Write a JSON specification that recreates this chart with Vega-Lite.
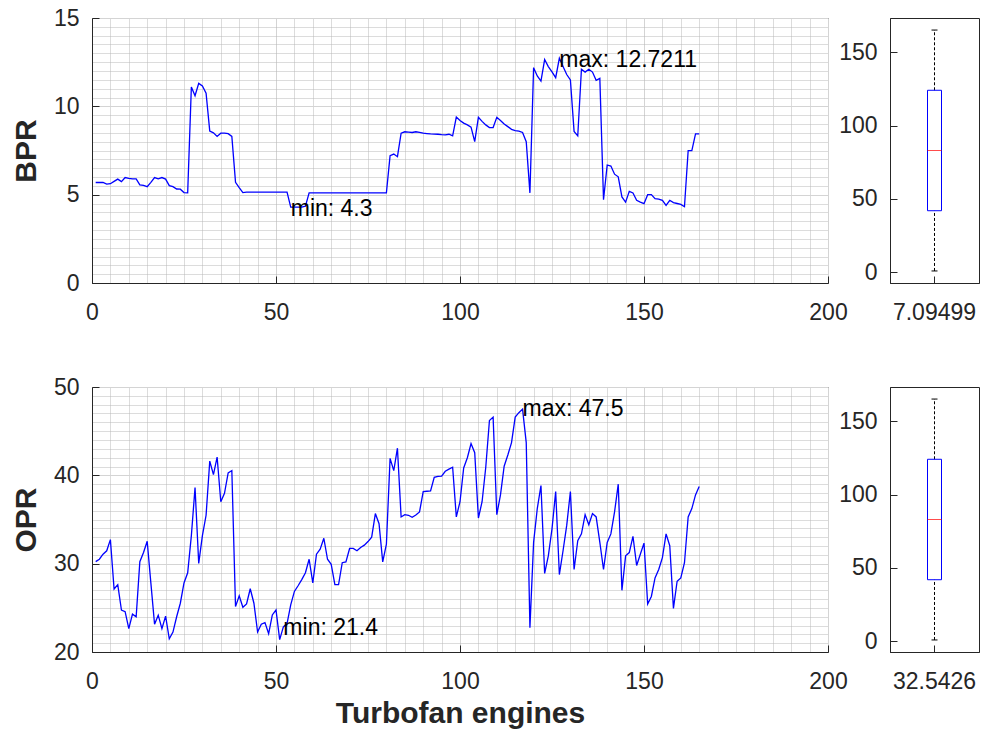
{
  "$schema": "https://vega.github.io/schema/vega-lite/v6.json",
  "padding": {"left": 10, "top": 6, "right": 0, "bottom": 0},
  "background": "white",
  "spacing": 50,
  "datasets": {
    "engines": [
      {"i":1,"BPR":5.69,"OPR":30.23},{"i":2,"BPR":5.69,"OPR":30.5},{"i":3,"BPR":5.69,"OPR":31.07},{"i":4,"BPR":5.6,"OPR":31.46},{"i":5,"BPR":5.62,"OPR":32.72},
      {"i":6,"BPR":5.75,"OPR":27.13},{"i":7,"BPR":5.88,"OPR":27.62},{"i":8,"BPR":5.74,"OPR":24.75},{"i":9,"BPR":5.97,"OPR":24.56},{"i":10,"BPR":5.92,"OPR":22.64},
      {"i":11,"BPR":5.89,"OPR":24.29},{"i":12,"BPR":5.89,"OPR":23.99},{"i":13,"BPR":5.55,"OPR":30.23},{"i":14,"BPR":5.52,"OPR":31.26},{"i":15,"BPR":5.45,"OPR":32.53},
      {"i":16,"BPR":5.7,"OPR":27.8},{"i":17,"BPR":5.97,"OPR":23.14},{"i":18,"BPR":5.9,"OPR":24.17},{"i":19,"BPR":5.97,"OPR":22.64},{"i":20,"BPR":5.88,"OPR":24.06},
      {"i":21,"BPR":5.51,"OPR":21.5},{"i":22,"BPR":5.45,"OPR":22.26},{"i":23,"BPR":5.32,"OPR":23.99},{"i":24,"BPR":5.31,"OPR":25.52},{"i":25,"BPR":5.12,"OPR":27.82},
      {"i":26,"BPR":5.1,"OPR":28.97},{"i":27,"BPR":11.09,"OPR":33.18},{"i":28,"BPR":10.6,"OPR":38.62},{"i":29,"BPR":11.3,"OPR":30.03},{"i":30,"BPR":11.15,"OPR":33.18},
      {"i":31,"BPR":10.75,"OPR":35.48},{"i":32,"BPR":8.6,"OPR":41.61},{"i":33,"BPR":8.5,"OPR":40.08},{"i":34,"BPR":8.3,"OPR":42.07},{"i":35,"BPR":8.48,"OPR":37.01},
      {"i":36,"BPR":8.48,"OPR":37.97},{"i":37,"BPR":8.45,"OPR":40.27},{"i":38,"BPR":8.3,"OPR":40.54},{"i":39,"BPR":5.7,"OPR":25.14},{"i":40,"BPR":5.4,"OPR":26.36},
      {"i":41,"BPR":5.12,"OPR":25.06},{"i":42,"BPR":5.14,"OPR":25.44},{"i":43,"BPR":5.14,"OPR":27.16},{"i":44,"BPR":5.14,"OPR":25.52},{"i":45,"BPR":5.14,"OPR":22.26},
      {"i":46,"BPR":5.14,"OPR":23.14},{"i":47,"BPR":5.14,"OPR":23.33},{"i":48,"BPR":5.14,"OPR":22.07},{"i":49,"BPR":5.14,"OPR":24.2},{"i":50,"BPR":5.14,"OPR":24.75},
      {"i":51,"BPR":5.14,"OPR":21.4},{"i":52,"BPR":5.14,"OPR":22.84},{"i":53,"BPR":5.14,"OPR":23.22},{"i":54,"BPR":4.3,"OPR":25.33},{"i":55,"BPR":4.3,"OPR":26.86},
      {"i":56,"BPR":4.3,"OPR":27.5},{"i":57,"BPR":4.3,"OPR":28.2},{"i":58,"BPR":4.35,"OPR":28.97},{"i":59,"BPR":5.1,"OPR":30.5},{"i":60,"BPR":5.1,"OPR":27.82},
      {"i":61,"BPR":5.1,"OPR":31.07},{"i":62,"BPR":5.1,"OPR":31.64},{"i":63,"BPR":5.1,"OPR":32.87},{"i":64,"BPR":5.1,"OPR":30.5},{"i":65,"BPR":5.1,"OPR":29.92},
      {"i":66,"BPR":5.1,"OPR":27.62},{"i":67,"BPR":5.1,"OPR":27.62},{"i":68,"BPR":5.1,"OPR":30.11},{"i":69,"BPR":5.1,"OPR":30.2},{"i":70,"BPR":5.1,"OPR":31.72},
      {"i":71,"BPR":5.1,"OPR":31.72},{"i":72,"BPR":5.1,"OPR":31.46},{"i":73,"BPR":5.1,"OPR":31.84},{"i":74,"BPR":5.1,"OPR":32.1},{"i":75,"BPR":5.1,"OPR":32.5},
      {"i":76,"BPR":5.1,"OPR":33.0},{"i":77,"BPR":5.1,"OPR":35.67},{"i":78,"BPR":5.1,"OPR":34.52},{"i":79,"BPR":5.1,"OPR":30.2},{"i":80,"BPR":5.1,"OPR":32.22},
      {"i":81,"BPR":7.21,"OPR":41.92},{"i":82,"BPR":7.3,"OPR":40.54},{"i":83,"BPR":7.15,"OPR":43.07},{"i":84,"BPR":8.48,"OPR":35.29},{"i":85,"BPR":8.56,"OPR":35.55},
      {"i":86,"BPR":8.54,"OPR":35.48},{"i":87,"BPR":8.52,"OPR":35.25},{"i":88,"BPR":8.56,"OPR":35.5},{"i":89,"BPR":8.52,"OPR":35.86},{"i":90,"BPR":8.48,"OPR":38.16},
      {"i":91,"BPR":8.46,"OPR":38.2},{"i":92,"BPR":8.44,"OPR":38.24},{"i":93,"BPR":8.43,"OPR":39.77},{"i":94,"BPR":8.42,"OPR":39.89},{"i":95,"BPR":8.4,"OPR":39.92},
      {"i":96,"BPR":8.39,"OPR":40.46},{"i":97,"BPR":8.42,"OPR":40.7},{"i":98,"BPR":8.33,"OPR":40.92},{"i":99,"BPR":9.39,"OPR":35.29},{"i":100,"BPR":9.2,"OPR":37.01},
      {"i":101,"BPR":9.05,"OPR":40.84},{"i":102,"BPR":8.95,"OPR":41.99},{"i":103,"BPR":8.82,"OPR":43.6},{"i":104,"BPR":8.0,"OPR":42.56},{"i":105,"BPR":9.38,"OPR":35.17},
      {"i":106,"BPR":9.15,"OPR":37.01},{"i":107,"BPR":8.95,"OPR":40.92},{"i":108,"BPR":8.8,"OPR":46.21},{"i":109,"BPR":8.8,"OPR":46.59},{"i":110,"BPR":9.38,"OPR":35.55},
      {"i":111,"BPR":9.2,"OPR":37.78},{"i":112,"BPR":9.0,"OPR":41.03},{"i":113,"BPR":8.85,"OPR":42.3},{"i":114,"BPR":8.7,"OPR":43.71},{"i":115,"BPR":8.63,"OPR":46.59},
      {"i":116,"BPR":8.6,"OPR":47.09},{"i":117,"BPR":8.52,"OPR":47.5},{"i":118,"BPR":8.0,"OPR":43.71},{"i":119,"BPR":5.1,"OPR":22.76},{"i":120,"BPR":12.19,"OPR":32.41},
      {"i":121,"BPR":11.72,"OPR":36.24},{"i":122,"BPR":11.43,"OPR":38.85},{"i":123,"BPR":12.65,"OPR":28.89},{"i":124,"BPR":12.25,"OPR":30.88},{"i":125,"BPR":11.95,"OPR":33.94},
      {"i":126,"BPR":11.62,"OPR":38.16},{"i":127,"BPR":12.7211,"OPR":28.77},{"i":128,"BPR":12.25,"OPR":31.46},{"i":129,"BPR":11.8,"OPR":34.33},{"i":130,"BPR":11.49,"OPR":38.16},
      {"i":131,"BPR":8.58,"OPR":29.34},{"i":132,"BPR":8.33,"OPR":32.61},{"i":133,"BPR":12.1,"OPR":33.37},{"i":134,"BPR":11.94,"OPR":35.55},{"i":135,"BPR":12.1,"OPR":34.4},
      {"i":136,"BPR":11.94,"OPR":35.67},{"i":137,"BPR":11.47,"OPR":35.29},{"i":138,"BPR":11.58,"OPR":32.41},{"i":139,"BPR":4.72,"OPR":29.34},{"i":140,"BPR":6.68,"OPR":32.41},
      {"i":141,"BPR":6.62,"OPR":33.37},{"i":142,"BPR":6.16,"OPR":35.86},{"i":143,"BPR":6.01,"OPR":39.0},{"i":144,"BPR":4.87,"OPR":26.98},{"i":145,"BPR":4.58,"OPR":30.88},
      {"i":146,"BPR":5.19,"OPR":31.26},{"i":147,"BPR":5.1,"OPR":33.1},{"i":148,"BPR":4.68,"OPR":29.8},{"i":149,"BPR":4.58,"OPR":31.07},{"i":150,"BPR":4.49,"OPR":32.33},
      {"i":151,"BPR":5.0,"OPR":25.44},{"i":152,"BPR":5.0,"OPR":26.29},{"i":153,"BPR":4.77,"OPR":28.39},{"i":154,"BPR":4.75,"OPR":29.34},{"i":155,"BPR":4.68,"OPR":30.69},
      {"i":156,"BPR":4.39,"OPR":33.37},{"i":157,"BPR":4.68,"OPR":32.03},{"i":158,"BPR":4.55,"OPR":24.94},{"i":159,"BPR":4.5,"OPR":28.01},{"i":160,"BPR":4.45,"OPR":28.39},
      {"i":161,"BPR":4.32,"OPR":30.11},{"i":162,"BPR":7.49,"OPR":35.29},{"i":163,"BPR":7.49,"OPR":36.24},{"i":164,"BPR":8.44,"OPR":37.78},{"i":165,"BPR":8.44,"OPR":38.74}
    ],
    "ann_bpr": [
      {"i": 127, "BPR": 12.6, "t": "max: 12.7211"},
      {"i": 54, "BPR": 4.2, "t": "min: 4.3"}
    ],
    "ann_opr": [
      {"i": 117, "OPR": 47.5, "t": "max: 47.5"},
      {"i": 52, "OPR": 22.7, "t": "min: 21.4"}
    ]
  },
  "vconcat": [
    {
      "bounds": "flush",
      "spacing": 62,
      "hconcat": [
        {
          "width": 736,
          "height": 265,
          "encoding": {
            "x": {"field": "i", "type": "quantitative", "scale": {"domain": [0, 200], "nice": false, "zero": false},
              "axis": {"title": null, "labelPadding": 25, "format": "d", "values": [0,5,10,15,20,25,30,35,40,45,50,55,60,65,70,75,80,85,90,95,100,105,110,115,120,125,130,135,140,145,150,155,160,165,170,175,180,185,190,195,200],
                "labelExpr": "datum.value % 50 === 0 ? datum.label : ''",
                "gridColor": {"condition": {"test": "datum.value % 50 === 0", "value": "#d4d4d4"}, "value": "#b8b8b8"},
                "gridDash": {"condition": {"test": "datum.value % 50 === 0", "value": []}, "value": [1, 1]},
                "tickOpacity": {"condition": {"test": "datum.value % 50 === 0", "value": 1}, "value": 0}}},
            "y": {"field": "BPR", "type": "quantitative", "scale": {"domain": [0, 15], "nice": false, "zero": false},
              "axis": {"title": "BPR", "labelPadding": 20, "format": "~g", "values": [0,0.5,1,1.5,2,2.5,3,3.5,4,4.5,5,5.5,6,6.5,7,7.5,8,8.5,9,9.5,10,10.5,11,11.5,12,12.5,13,13.5,14,14.5,15],
                "labelExpr": "datum.value % 5 === 0 ? datum.label : ''",
                "gridColor": {"condition": {"test": "datum.value % 5 === 0", "value": "#d4d4d4"}, "value": "#b8b8b8"},
                "gridDash": {"condition": {"test": "datum.value % 5 === 0", "value": []}, "value": [1, 1]},
                "tickOpacity": {"condition": {"test": "datum.value % 5 === 0", "value": 1}, "value": 0}}}
          },
          "layer": [
            {
              "data": {"name": "engines"},
              "mark": {"type": "line", "color": "#0000ff", "strokeWidth": 1.3}
            },
            {
              "data": {"name": "ann_bpr"},
              "mark": {"type": "text", "align": "left", "baseline": "middle", "fontSize": 23, "font": "Liberation Sans", "color": "#000000"},
              "encoding": {"text": {"field": "t"}}
            }
          ]
        },
        {
          "width": 89,
          "height": 265,
          "data": {"name": "engines"},
          "mark": {"type": "boxplot", "extent": "min-max", "size": 14,
            "box": {"filled": false, "color": "#0000ff", "stroke": "#0000ff", "strokeWidth": 1},
            "median": {"color": "#ff0000", "strokeWidth": 1},
            "rule": {"color": "#000000", "strokeDash": [3, 2], "strokeWidth": 1},
            "ticks": {"color": "#000000", "size": 6}},
          "encoding": {
            "x": {"datum": "7.09499", "type": "nominal", "axis": {"title": null, "labelAngle": 0, "grid": false, "labelPadding": 25}},
            "y": {"field": "i", "type": "quantitative", "scale": {"domain": [-7.2, 173.2], "nice": false, "zero": false},
              "axis": {"title": null, "values": [0, 50, 100, 150], "grid": false, "labelPadding": 20}}
          }
        }
      ]
    },
    {
      "bounds": "flush",
      "spacing": 62,
      "hconcat": [
        {
          "width": 736,
          "height": 265,
          "encoding": {
            "x": {"field": "i", "type": "quantitative", "scale": {"domain": [0, 200], "nice": false, "zero": false},
              "axis": {"title": "Turbofan engines", "titlePadding": 5, "labelPadding": 25, "format": "d", "values": [0,5,10,15,20,25,30,35,40,45,50,55,60,65,70,75,80,85,90,95,100,105,110,115,120,125,130,135,140,145,150,155,160,165,170,175,180,185,190,195,200],
                "labelExpr": "datum.value % 50 === 0 ? datum.label : ''",
                "gridColor": {"condition": {"test": "datum.value % 50 === 0", "value": "#d4d4d4"}, "value": "#b8b8b8"},
                "gridDash": {"condition": {"test": "datum.value % 50 === 0", "value": []}, "value": [1, 1]},
                "tickOpacity": {"condition": {"test": "datum.value % 50 === 0", "value": 1}, "value": 0}}},
            "y": {"field": "OPR", "type": "quantitative", "scale": {"domain": [20, 50], "nice": false, "zero": false},
              "axis": {"title": "OPR", "labelPadding": 20, "format": "d", "values": [20,21,22,23,24,25,26,27,28,29,30,31,32,33,34,35,36,37,38,39,40,41,42,43,44,45,46,47,48,49,50],
                "labelExpr": "datum.value % 10 === 0 ? datum.label : ''",
                "gridColor": {"condition": {"test": "datum.value % 10 === 0", "value": "#d4d4d4"}, "value": "#b8b8b8"},
                "gridDash": {"condition": {"test": "datum.value % 10 === 0", "value": []}, "value": [1, 1]},
                "tickOpacity": {"condition": {"test": "datum.value % 10 === 0", "value": 1}, "value": 0}}}
          },
          "layer": [
            {
              "data": {"name": "engines"},
              "mark": {"type": "line", "color": "#0000ff", "strokeWidth": 1.3}
            },
            {
              "data": {"name": "ann_opr"},
              "mark": {"type": "text", "align": "left", "baseline": "middle", "fontSize": 23, "font": "Liberation Sans", "color": "#000000"},
              "encoding": {"text": {"field": "t"}}
            }
          ]
        },
        {
          "width": 89,
          "height": 265,
          "data": {"name": "engines"},
          "mark": {"type": "boxplot", "extent": "min-max", "size": 14,
            "box": {"filled": false, "color": "#0000ff", "stroke": "#0000ff", "strokeWidth": 1},
            "median": {"color": "#ff0000", "strokeWidth": 1},
            "rule": {"color": "#000000", "strokeDash": [3, 2], "strokeWidth": 1},
            "ticks": {"color": "#000000", "size": 6}},
          "encoding": {
            "x": {"datum": "32.5426", "type": "nominal", "axis": {"title": null, "labelAngle": 0, "grid": false, "labelPadding": 25}},
            "y": {"field": "i", "type": "quantitative", "scale": {"domain": [-7.2, 173.2], "nice": false, "zero": false},
              "axis": {"title": null, "values": [0, 50, 100, 150], "grid": false, "labelPadding": 20}}
          }
        }
      ]
    }
  ],
  "config": {
    "font": "Liberation Sans",
    "view": {"stroke": "#262626", "strokeWidth": 1},
    "axis": {
      "labelFont": "Liberation Sans",
      "labelFontSize": 23,
      "labelColor": "#262626",
      "labelOverlap": false,
      "labelFlush": false,
      "titleFont": "Liberation Sans",
      "titleFontSize": 30,
      "titleFontWeight": "bold",
      "titleColor": "#262626",
      "titlePadding": 12,
      "domainColor": "#262626",
      "domainWidth": 1,
      "tickColor": "#262626",
      "tickSize": -7,
      "tickWidth": 1,
      "gridWidth": 1
    }
  }
}
